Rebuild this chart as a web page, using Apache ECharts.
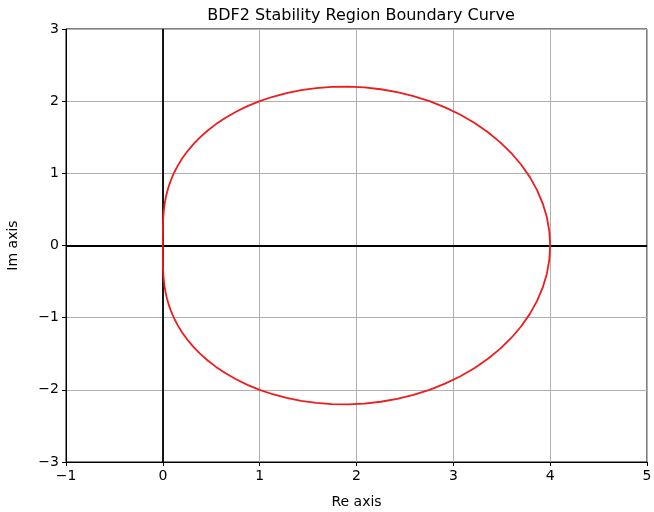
<!DOCTYPE html>
<html>
<head>
<meta charset="utf-8">
<script src="https://cdn.jsdelivr.net/npm/echarts@6/dist/echarts.min.js"></script>
<style>
html, body { margin: 0; padding: 0; background: #fff; }
#chart { width: 654px; height: 512px; }
</style>
</head>
<body>
<div id="chart"></div>
<script>
// boundary curve points (Re, Im), going round once
var reVals = [0, 0.0000, 0.0001, 0.0004, 0.0011, 0.0028, 0.0058, 0.0106, 0.0179, 0.0284, 0.0427, 0.0616,
  0.0858, 0.1160, 0.1531, 0.1975, 0.25, 0.3110, 0.3811, 0.4604, 0.5494, 0.6479, 0.756, 0.8735, 1.0,
  1.1351, 1.2781, 1.4282, 1.5846, 1.7462, 1.9118, 2.0802, 2.25, 2.4198, 2.5881, 2.7534, 2.9142,
  3.0689, 3.2161, 3.3543, 3.4821, 3.5981, 3.7013, 3.7905, 3.8649, 3.9235, 3.9659, 3.9914, 4.0,
  3.9914, 3.9659, 3.9235, 3.8649, 3.7905, 3.7013, 3.5981, 3.4821, 3.3543, 3.2161, 3.0689, 2.9142,
  2.7534, 2.5881, 2.4198, 2.25, 2.0802, 1.9118, 1.7462, 1.5846, 1.4282, 1.2781, 1.1351, 1.0,
  0.8735, 0.756, 0.6479, 0.5494, 0.4604, 0.3811, 0.311, 0.25, 0.1975, 0.1531, 0.116, 0.0858,
  0.0616, 0.0427, 0.0284, 0.0179, 0.0106, 0.0058, 0.0028, 0.0011, 0.0004, 0.0001, 0.0000, 0];
var imVals = [0, 0.0655, 0.1316, 0.1988, 0.2676, 0.3385, 0.4118, 0.4879, 0.567, 0.6492, 0.7346, 0.823,
  0.9142, 1.008, 1.1037, 1.201, 1.299, 1.3971, 1.4942, 1.5895, 1.6819, 1.7702, 1.8535, 1.9305, 2.0,
  2.061, 2.1123, 2.1529, 2.1819, 2.1982, 2.2013, 2.1904, 2.1651, 2.1249, 2.0697, 1.9994, 1.9142,
  1.8144, 1.7005, 1.5731, 1.433, 1.2813, 1.1189, 0.9473, 0.7676, 0.5815, 0.3905, 0.1961, 0,
  -0.1961, -0.3905, -0.5815, -0.7676, -0.9473, -1.1189, -1.2813, -1.433, -1.5731, -1.7005, -1.8144, -1.9142,
  -1.9994, -2.0697, -2.1249, -2.1651, -2.1904, -2.2013, -2.1982, -2.1819, -2.1529, -2.1123, -2.061, -2.0,
  -1.9305, -1.8535, -1.7702, -1.6819, -1.5895, -1.4942, -1.3971, -1.299, -1.201, -1.1037, -1.008, -0.9142,
  -0.823, -0.7346, -0.6492, -0.567, -0.4879, -0.4118, -0.3385, -0.2676, -0.1988, -0.1316, -0.0655, 0];

var xRange = [-1, 5];
var yRange = [-3, 3];

var curve = [];
for (var i = 0; i < reVals.length; i++) {
  curve.push([reVals[i], imVals[i]]);
}

function minus(v) {
  return String(v).replace('-', '\u2212');
}

var chart = echarts.init(document.getElementById('chart'));
var font = 'DejaVu Sans';

var option = {
  animation: false,
  title: {
    text: 'BDF2 Stability Region Boundary Curve',
    left: 356,
    top: 3,
    textAlign: 'center',
    textStyle: { fontFamily: font, fontSize: 16, fontWeight: 'normal', color: '#000' }
  },
  grid: {
    left: 66, right: 7, top: 29, bottom: 50,
    outerBoundsMode: 'none',
    show: true, borderColor: '#000', borderWidth: 1
  },
  xAxis: {
    type: 'value',
    min: xRange[0], max: xRange[1], interval: 1,
    name: 'Re axis',
    nameLocation: 'middle',
    nameGap: 33,
    nameTextStyle: { fontFamily: font, fontSize: 14, color: '#000' },
    axisLine: { show: true, onZero: false, lineStyle: { color: '#000' } },
    axisTick: { show: true, length: 4, lineStyle: { color: '#000' } },
    axisLabel: { fontFamily: font, fontSize: 14, color: '#000', margin: 7, formatter: minus },
    splitLine: { show: true, lineStyle: { color: '#b0b0b0', width: 1 } }
  },
  yAxis: {
    type: 'value',
    min: yRange[0], max: yRange[1], interval: 1,
    name: 'Im axis',
    nameLocation: 'middle',
    nameGap: 46,
    nameTextStyle: { fontFamily: font, fontSize: 14, color: '#000' },
    axisLine: { show: true, onZero: false, lineStyle: { color: '#000' } },
    axisTick: { show: true, length: 4, lineStyle: { color: '#000' } },
    axisLabel: { fontFamily: font, fontSize: 14, color: '#000', margin: 7, formatter: minus },
    splitLine: { show: true, lineStyle: { color: '#b0b0b0', width: 1 } }
  },
  series: [{
    type: 'line',
    data: curve,
    showSymbol: false,
    smooth: false,
    lineStyle: { color: '#ee1c1c', width: 1.8 },
    z: 3,
    markLine: {
      silent: true,
      symbol: 'none',
      label: { show: false },
      lineStyle: { color: '#000', width: 1.8, type: 'solid' },
      data: [{ xAxis: 0 }, { yAxis: 0 }],
      z: 2
    }
  }]
};

chart.setOption(option);
</script>
</body>
</html>
